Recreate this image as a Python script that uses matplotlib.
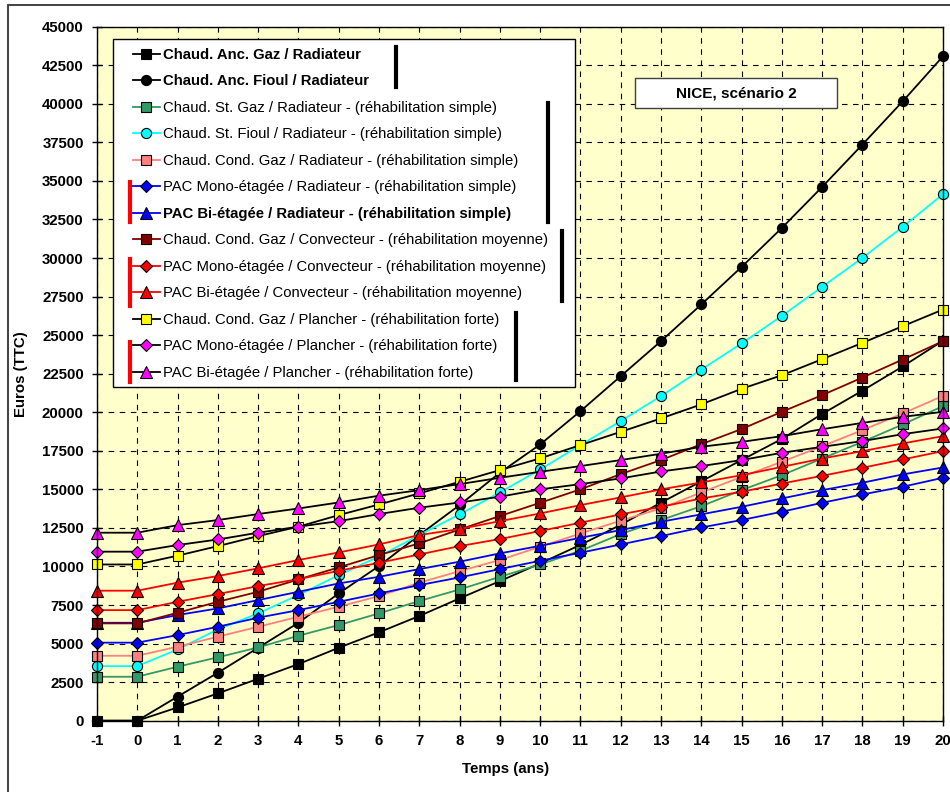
import matplotlib
matplotlib.use('Agg')
import matplotlib.pyplot as plt
from matplotlib.lines import Line2D
from matplotlib.patches import Rectangle

plt.rcParams['font.family'] = ['Liberation Sans', 'DejaVu Sans']
plt.rcParams['axes.unicode_minus'] = False

# ---------------- data ----------------
years = list(range(-1, 21))

anc_gaz = [0, 0, 860, 1770, 2720, 3670, 4730, 5730, 6790, 7930, 9050, 10200,
           11400, 12700, 14140, 15520, 16900, 18270, 19890, 21400, 22970, 24640]
anc_fioul = [0, 0, 1560, 3110, 4730, 6350, 8250, 10030, 12040, 13980, 16080, 17910,
             20070, 22340, 24610, 26990, 29420, 31950, 34610, 37360, 40160, 43080]
st_gaz = [2850, 2850, 3500, 4110, 4750, 5510, 6200, 6960, 7760, 8510, 9330, 10130,
          11020, 12100, 13010, 13910, 14950, 15920, 17000, 18080, 19210, 20400]
st_fioul = [3540, 3540, 4620, 5920, 6960, 8150, 9440, 10650, 12040, 13380, 14800, 16290,
            17870, 19430, 21050, 22770, 24460, 26250, 28130, 30010, 32020, 34140]
cond_gaz_rad = [4210, 4210, 4800, 5450, 6090, 6740, 7390, 8080, 8950, 9700, 10420, 11280,
                12140, 12970, 13770, 14800, 15810, 16790, 17800, 18840, 19920, 21060]
pac_mono_rad = [5060, 5060, 5550, 6090, 6680, 7170, 7710, 8250, 8790, 9290, 9830, 10370,
                10890, 11430, 11970, 12530, 13010, 13550, 14130, 14670, 15170, 15750]
pac_bi_rad = [6350, 6350, 6850, 7280, 7820, 8360, 8900, 9330, 9830, 10310, 10850, 11340,
              11860, 12360, 12900, 13380, 13870, 14410, 14950, 15430, 15970, 16420]
cond_gaz_conv = [6310, 6310, 7000, 7710, 8360, 9160, 9940, 10740, 11500, 12400, 13270, 14130,
                 15000, 15990, 16900, 17930, 18910, 20030, 21110, 22250, 23420, 24610]
pac_mono_conv = [7170, 7170, 7710, 8210, 8730, 9180, 9720, 10240, 10780, 11320, 11780, 12300,
                 12840, 13380, 13870, 14410, 14840, 15380, 15880, 16400, 16940, 17480]
pac_bi_conv = [8430, 8430, 8950, 9380, 9880, 10420, 10910, 11430, 12040, 12430, 12940, 13440,
               13980, 14480, 15000, 15450, 15920, 16460, 17000, 17480, 17980, 18450]
cond_gaz_pl = [10130, 10130, 10700, 11320, 11970, 12580, 13330, 14020, 14740, 15490, 16250, 17010,
               17870, 18730, 19600, 20510, 21520, 22400, 23440, 24500, 25580, 26660]
pac_mono_pl = [10960, 10960, 11390, 11750, 12190, 12580, 12940, 13400, 13810, 14150, 14520, 15000,
               15340, 15710, 16160, 16510, 16900, 17370, 17760, 18130, 18580, 18950]
pac_bi_pl = [12190, 12190, 12680, 13010, 13400, 13760, 14150, 14590, 14950, 15340, 15750, 16140,
             16510, 16900, 17310, 17760, 18080, 18450, 18900, 19310, 19700, 20030]

labels = [
    'Chaud. Anc. Gaz / Radiateur',
    'Chaud. Anc. Fioul / Radiateur',
    'Chaud. St. Gaz / Radiateur - (réhabilitation simple)',
    'Chaud. St. Fioul / Radiateur - (réhabilitation simple)',
    'Chaud. Cond. Gaz / Radiateur - (réhabilitation simple)',
    'PAC Mono-étagée / Radiateur - (réhabilitation simple)',
    'PAC Bi-étagée / Radiateur - (réhabilitation simple)',
    'Chaud. Cond. Gaz / Convecteur - (réhabilitation moyenne)',
    'PAC Mono-étagée / Convecteur - (réhabilitation moyenne)',
    'PAC Bi-étagée / Convecteur - (réhabilitation moyenne)',
    'Chaud. Cond. Gaz / Plancher - (réhabilitation forte)',
    'PAC Mono-étagée / Plancher - (réhabilitation forte)',
    'PAC Bi-étagée / Plancher - (réhabilitation forte)',
]
series = [anc_gaz, anc_fioul, st_gaz, st_fioul, cond_gaz_rad, pac_mono_rad, pac_bi_rad,
          cond_gaz_conv, pac_mono_conv, pac_bi_conv, cond_gaz_pl, pac_mono_pl, pac_bi_pl]
bold_rows = [0, 1, 6]

# (line colour, marker, marker face colour)
styles = [
    ('black', 's', 'black'),
    ('black', 'o', 'black'),
    ('#339966', 's', '#339966'),
    ('#00FFFF', 'o', '#00FFFF'),
    ('#FF8080', 's', '#FF8080'),
    ('#0000FF', 'D', '#0000FF'),
    ('#0000FF', '^', '#0000FF'),
    ('#800000', 's', '#800000'),
    ('#FF0000', 'D', '#FF0000'),
    ('#FF0000', '^', '#FF0000'),
    ('black', 's', '#FFFF00'),
    ('black', 'D', '#FF00FF'),
    ('black', '^', '#FF00FF'),
]
msizes = {'s': 6.6, 'o': 7.3, 'D': 6.3, '^': 8.0}

W, H = 950, 792
fig = plt.figure(figsize=(W / 100, H / 100), dpi=100)
ax = fig.add_axes([97 / W, 1 - 720.7 / H, 846 / W, 694 / H])
ax.set_facecolor('#FFFFCC')

handles = []
for ys, lab, (lc, mk, fc) in zip(series, labels, styles):
    h, = ax.plot(years, ys, color=lc, lw=1.3, marker=mk, ms=msizes[mk],
                 mfc=fc, mec='black', mew=0.8, label=lab, clip_on=False)
    handles.append(h)

ax.set_xlim(-1, 20)
ax.set_ylim(0, 45000)
ax.set_xticks(years)
ax.set_yticks(range(0, 45001, 2500))
ax.grid(True, color='black', linestyle=(0, (5, 5)), lw=0.8)
ax.tick_params(direction='inout', length=7, width=1, labelsize=10.8, pad=6)
for t in ax.get_xticklabels() + ax.get_yticklabels():
    t.set_fontweight('bold')
for s in ax.spines.values():
    s.set_color('black')
    s.set_linewidth(1.0)

ax.set_xlabel('Temps (ans)', fontsize=10.8, fontweight='bold')
ax.xaxis.set_label_coords((506 - 97) / 846, -(762 - 720.7) / 694)
ax.set_ylabel('Euros (TTC)', fontsize=10.8, fontweight='bold')
ax.yaxis.set_label_coords((28 - 97) / 846, 0.5)


def fx(x):
    return x / W


def fy(y):
    return 1 - y / H


# legend frame drawn separately so the entries can be placed freely inside it
ax.add_patch(Rectangle((fx(113), fy(387)), (575 - 113) / W, (387 - 39) / H,
                       facecolor='white', edgecolor='black', lw=1.0,
                       transform=fig.transFigure, zorder=4.5, clip_on=False))
leg = ax.legend(handles=handles, loc='upper left',
                bbox_to_anchor=((133 - 97) / 846, (720.7 - 48) / 694),
                fontsize=10.7, frameon=False, handlelength=1.8,
                handletextpad=0.2, labelspacing=0.84, borderpad=0,
                borderaxespad=0)
for i, t in enumerate(leg.get_texts()):
    if i in bold_rows:
        t.set_fontweight('bold')

# vertical group bars next to the legend
black_bars = [(396, 47, 87), (548, 103, 222), (562, 231, 301), (516, 313, 380)]
red_bars = [(130, 182, 222), (130, 259, 306), (130, 342, 382)]
for x, y0, y1 in black_bars:
    fig.add_artist(Line2D([fx(x), fx(x)], [fy(y0), fy(y1)], color='black', lw=3,
                          transform=fig.transFigure))
for x, y0, y1 in red_bars:
    fig.add_artist(Line2D([fx(x), fx(x)], [fy(y0), fy(y1)], color='#FF0000', lw=3,
                          transform=fig.transFigure))

# title box
fig.add_artist(Rectangle((fx(635), fy(108.3)), (836.7 - 635) / W, 30 / H,
                         facecolor='white', edgecolor='#404040', lw=1.0,
                         transform=fig.transFigure))
fig.text(fx(736), fy(93.5), 'NICE, scénario 2', ha='center', va='center',
         fontsize=11, fontweight='bold')

# outer chart frame (cut by the image edges)
fig.add_artist(Rectangle((fx(8), -0.05), 1.2, fy(5) + 0.05, facecolor='none',
                         edgecolor='#333333', lw=1.3, transform=fig.transFigure))

fig.savefig('out.png', dpi=100)
